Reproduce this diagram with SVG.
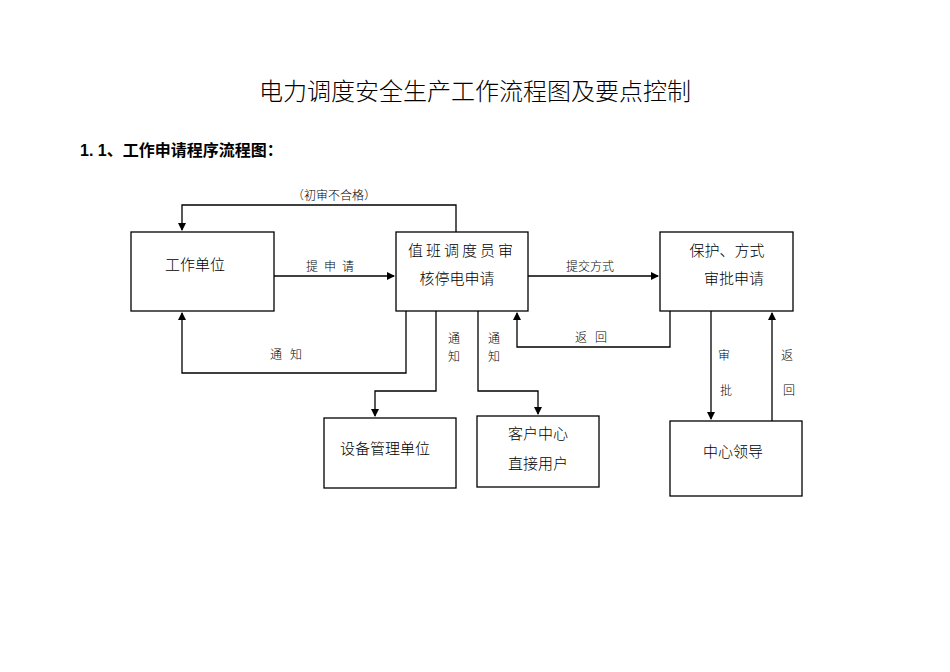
<svg xmlns="http://www.w3.org/2000/svg" width="950" height="672" viewBox="0 0 950 672">
<style>
text{font-family:"Liberation Serif","Noto Sans CJK SC",serif;fill:#000}
.b{fill:#fff;stroke:#000;stroke-width:1.3}
.c{fill:none;stroke:#000;stroke-width:1.3}
.n{font-size:15px;font-weight:300}
.s{font-size:12px;font-weight:300}
</style>
<defs><marker id="a" markerWidth="8" markerHeight="8" refX="7" refY="4" orient="auto" markerUnits="userSpaceOnUse"><path d="M0,0L8,4L0,8z" fill="#000"/></marker></defs>
<rect width="950" height="672" fill="#fff"/>
<text x="475" y="100" font-size="24" font-weight="300" text-anchor="middle">电力调度安全生产工作流程图及要点控制</text>
<text x="80" y="156" font-size="16" font-weight="bold" style="font-family:'Liberation Sans','Noto Sans CJK SC',sans-serif">1. 1、工作申请程序流程图：</text>
<g id="connectors">
<path class="c" d="M456,232V205H182V230" marker-end="url(#a)"/>
<path class="c" d="M274,276H394" marker-end="url(#a)"/>
<path class="c" d="M406,311V373H182V313" marker-end="url(#a)"/>
<path class="c" d="M436,311V391H375V416" marker-end="url(#a)"/>
<path class="c" d="M478,311V391H538V414" marker-end="url(#a)"/>
<path class="c" d="M528,276H658" marker-end="url(#a)"/>
<path class="c" d="M670,311V347H517V313" marker-end="url(#a)"/>
<path class="c" d="M711,311V419" marker-end="url(#a)"/>
<path class="c" d="M772,421V313" marker-end="url(#a)"/>
<text class="s" x="334" y="200" text-anchor="middle">（初审不合格）</text>
<text class="s" x="333" y="271" text-anchor="middle" letter-spacing="6">提申请</text>
<text class="s" x="290" y="359" text-anchor="middle" letter-spacing="8">通知</text>
<text class="s" x="454" y="343" text-anchor="middle">通</text>
<text class="s" x="454" y="361" text-anchor="middle">知</text>
<text class="s" x="494" y="343" text-anchor="middle">通</text>
<text class="s" x="494" y="361" text-anchor="middle">知</text>
<text class="s" x="590" y="271" text-anchor="middle">提交方式</text>
<text class="s" x="595" y="342" text-anchor="middle" letter-spacing="8">返回</text>
<text class="s" x="724" y="360" text-anchor="middle">审</text>
<text class="s" x="726" y="395" text-anchor="middle">批</text>
<text class="s" x="787" y="360" text-anchor="middle">返</text>
<text class="s" x="789" y="395" text-anchor="middle">回</text>
</g>
<g id="n1"><rect class="b" x="131" y="232" width="143" height="79"/><text class="n" x="195" y="270" text-anchor="middle">工作单位</text></g>
<g id="n2"><rect class="b" x="396" y="232" width="132" height="79"/><text class="n" x="462" y="256" text-anchor="middle" letter-spacing="3">值班调度员审</text><text class="n" x="457" y="284" text-anchor="middle">核停电申请</text></g>
<g id="n3"><rect class="b" x="660" y="232" width="133" height="79"/><text class="n" x="727" y="256" text-anchor="middle">保护、方式</text><text class="n" x="734" y="284" text-anchor="middle">审批申请</text></g>
<g id="n4"><rect class="b" x="324" y="418" width="132" height="70"/><text class="n" x="385" y="454" text-anchor="middle">设备管理单位</text></g>
<g id="n5"><rect class="b" x="477" y="416" width="122" height="71"/><text class="n" x="538" y="439" text-anchor="middle">客户中心</text><text class="n" x="538" y="469" text-anchor="middle">直接用户</text></g>
<g id="n6"><rect class="b" x="670" y="421" width="132" height="75"/><text class="n" x="733" y="457" text-anchor="middle">中心领导</text></g>
</svg>
